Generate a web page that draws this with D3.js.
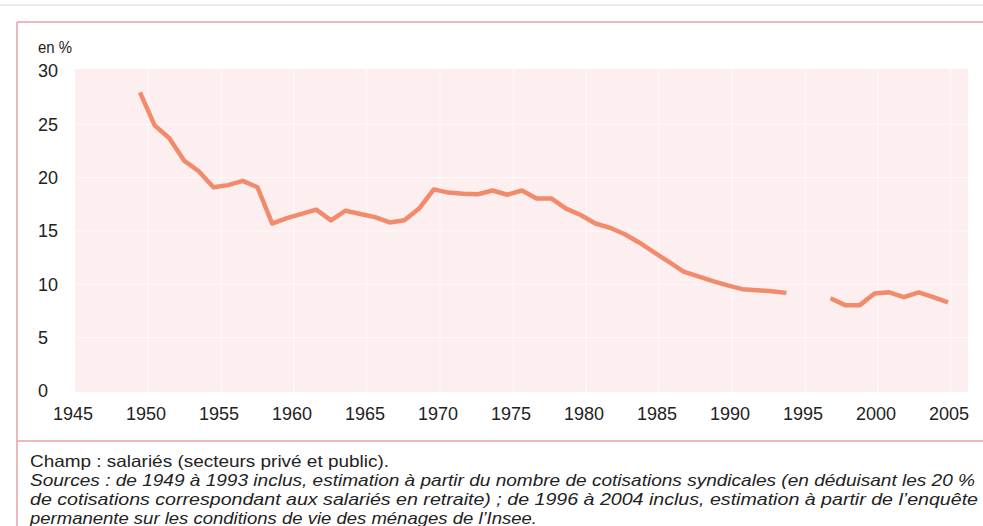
<!DOCTYPE html>
<html>
<head>
<meta charset="utf-8">
<script src="https://cdn.jsdelivr.net/npm/d3@7"></script>
<style>
  html, body { margin: 0; padding: 0; background: #fff; }
  svg { display: block; }
  .tick-label { font-family: "Liberation Sans", Arial, sans-serif; font-size: 18px; fill: #222; }
  .note { font-family: "Liberation Sans Narrow", "Arial Narrow", "Liberation Sans", sans-serif; font-size: 16.5px; fill: #222; }
</style>
</head>
<body>
<div id="chart"></div>
<script>
// taux de syndicalisation, en %
var years1 = [1949,1950,1951,1952,1953,1954,1955,1956,1957,1958,1959,1960,1961,1962,1963,1964,1965,1966,1967,1968,
              1969,1970,1971,1972,1973,1974,1975,1976,1977,1978,1979,1980,1981,1982,1983,1984,1985,1986,1987,1988,
              1989,1990,1991,1992,1993];
var values1 = [28.0,24.9,23.7,21.6,20.6,19.1,19.3,19.7,19.1,15.7,16.2,16.6,17.0,16.0,16.9,16.6,16.3,15.8,16.0,17.1,
               18.9,18.6,18.5,18.45,18.8,18.4,18.8,18.05,18.05,17.1,16.5,15.7,15.3,14.7,13.9,13.0,12.1,11.2,10.75,10.3,
               9.9,9.55,9.45,9.35,9.2];
var years2 = [1996,1997,1998,1999,2000,2001,2002,2003,2004];
var values2 = [8.7,8.05,8.05,9.15,9.25,8.8,9.25,8.8,8.3];

var xTicks = [1945,1950,1955,1960,1965,1970,1975,1980,1985,1990,1995,2000,2005];
var yTicks = [0,5,10,15,20,25,30];

var noteLines = [
  {text: "Champ : salariés (secteurs privé et public).", italic: false, w: 359},
  {text: "Sources : de 1949 à 1993 inclus, estimation à partir du nombre de cotisations syndicales (en déduisant les 20 %", italic: true, w: 945},
  {text: "de cotisations correspondant aux salariés en retraite) ; de 1996 à 2004 inclus, estimation à partir de l’enquête", italic: true, w: 948},
  {text: "permanente sur les conditions de vie des ménages de l’Insee.", italic: true, w: 507}
];

var width = 983, height = 526;

var svg = d3.select('#chart').append('svg').attr('width', width).attr('height', height);

var x = d3.scaleLinear().domain([1945, 2005]).range([81.2, 962.7]);
// the year labels sit a little left of the data years in the original
var xLab = d3.scaleLinear().domain([1945, 2005]).range([73, 949]);
var y = d3.scaleLinear().domain([0, 30]).range([391, 71]);

// frame
svg.append('line').attr('x1', 0).attr('x2', width).attr('y1', 5).attr('y2', 5)
  .attr('stroke', '#d8d8d8').attr('stroke-width', 1);
svg.append('line').attr('x1', 17).attr('x2', width).attr('y1', 22).attr('y2', 22)
  .attr('stroke', '#e9a2a6').attr('stroke-width', 1.5);
svg.append('line').attr('x1', 17).attr('x2', 17).attr('y1', 22).attr('y2', height)
  .attr('stroke', '#e9a2a6').attr('stroke-width', 1.5);
svg.append('line').attr('x1', 17).attr('x2', width).attr('y1', 441).attr('y2', 441)
  .attr('stroke', '#e9a2a6').attr('stroke-width', 1.5);

// plot background
svg.append('rect').attr('x', 75).attr('y', 69).attr('width', 968 - 75).attr('height', 392 - 69)
  .attr('fill', '#fdeef0');

// faint white grid
svg.append('g').selectAll('line').data(xTicks.slice(1)).enter().append('line')
  .attr('x1', function(d){return xLab(d) + 2;}).attr('x2', function(d){return xLab(d) + 2;})
  .attr('y1', 69).attr('y2', 392)
  .attr('stroke', '#fff').attr('stroke-opacity', 0.7).attr('stroke-width', 1);
svg.append('g').selectAll('line').data(yTicks.slice(1, -1)).enter().append('line')
  .attr('x1', 75).attr('x2', 968)
  .attr('y1', function(d){return y(d);}).attr('y2', function(d){return y(d);})
  .attr('stroke', '#fff').attr('stroke-opacity', 0.7).attr('stroke-width', 1);

// y labels
svg.append('text').attr('class', 'note').attr('x', 38).attr('y', 53)
  .attr('textLength', 34).attr('lengthAdjust', 'spacingAndGlyphs').text('en %');
svg.append('g').selectAll('text').data(yTicks).enter().append('text')
  .attr('class', 'tick-label')
  .attr('x', 38).attr('y', function(d){return y(d);}).attr('dy', '0.36em')
  .text(function(d){return d;});

// x labels
svg.append('g').selectAll('text').data(xTicks).enter().append('text')
  .attr('class', 'tick-label')
  .attr('x', function(d){return xLab(d);}).attr('y', 420)
  .attr('text-anchor', 'middle')
  .text(function(d){return d;});

// series
var line = d3.line().x(function(d){return x(d[0]);}).y(function(d){return y(d[1]);});
var seg1 = d3.zip(years1, values1);
var seg2 = d3.zip(years2, values2);
svg.append('g').selectAll('path').data([seg1, seg2]).enter().append('path')
  .attr('d', line)
  .attr('fill', 'none')
  .attr('stroke', '#f28a6c')
  .attr('stroke-width', 4.5)
  .attr('stroke-linejoin', 'round');

// notes
svg.append('g').selectAll('text').data(noteLines).enter().append('text')
  .attr('class', 'note')
  .attr('x', 30)
  .attr('y', function(d, i){return 467 + i * 19;})
  .attr('font-style', function(d){return d.italic ? 'italic' : 'normal';})
  .attr('textLength', function(d){return d.w;})
  .attr('lengthAdjust', 'spacingAndGlyphs')
  .text(function(d){return d.text;});
</script>
</body>
</html>
